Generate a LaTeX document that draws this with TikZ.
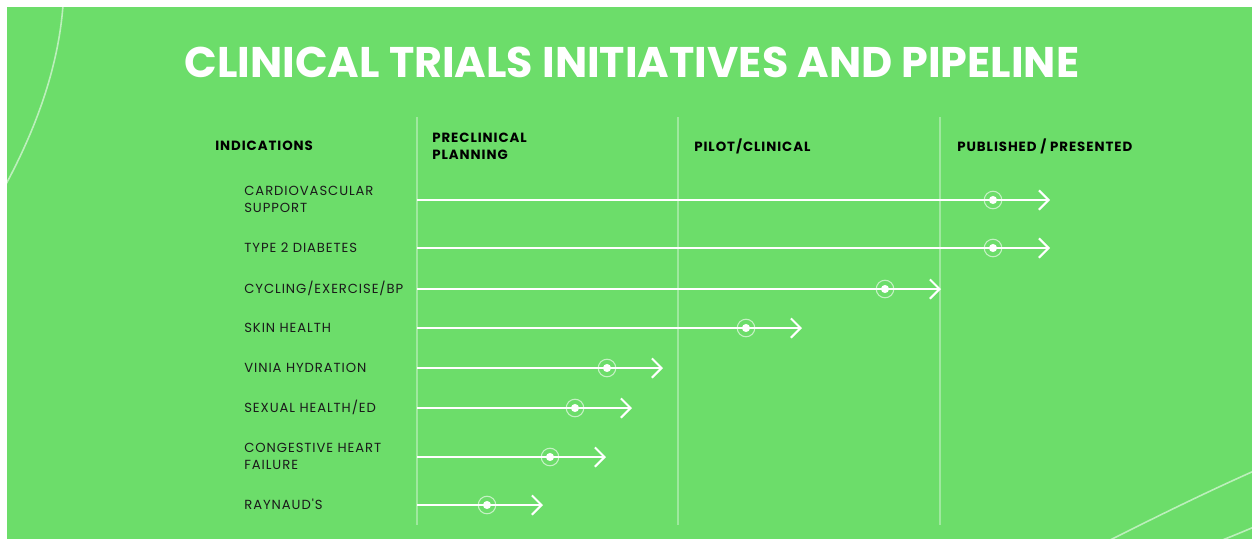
\documentclass[tikz,border=0pt]{standalone}
\usepackage{fontspec}
\setmainfont{Poppins}
\newfontfamily\spacedfont[LetterSpace=7]{Poppins}
\usetikzlibrary{arrows.meta}
\definecolor{bg}{HTML}{6CDD6A}
\definecolor{ink}{HTML}{1A1A1A}
\begin{document}
\begin{tikzpicture}[x=0.02cm,y=-0.02cm,
  titletext/.style={text=white,font=\fontsize{24.4}{28}\selectfont\bfseries,inner sep=0,anchor=base},
  colhead/.style={text=black,font=\spacedfont\fontsize{7.6}{9.6}\selectfont\bfseries,inner sep=0,anchor=west,align=left},
  indlabel/.style={text=ink,font=\spacedfont\fontsize{7.5}{9.6}\selectfont,inner sep=0,anchor=west,align=left},
  colrule/.style={white,opacity=0.35,line width=0.6pt},
  track/.style={white,line width=1.15pt,-{Straight Barb[length=5.5pt,width=11pt,line width=1.15pt]}},
  ring/.style={circle,draw=white,draw opacity=0.6,line width=0.6pt,minimum size=10pt,inner sep=0},
  dot/.style={circle,fill=white,minimum size=4.6pt,inner sep=0},
  swoosh/.style={white,opacity=0.55,line width=0.9pt}]
% canvas
\useasboundingbox (0,0) rectangle (1252,542);
\fill[white] (0,0) rectangle (1252,542);
\fill[bg] (7,7) rectangle (1252,539);
% decorative swooshes
\begin{scope}
  \clip (7,7) rectangle (1252,539);
  \draw[swoosh] (63,5) .. controls (58,75) and (30,140) .. (5,186);
  \draw[swoosh] (1100,545) .. controls (1150,520) and (1200,495) .. (1254,471);
  \draw[swoosh] (1210,545) .. controls (1225,539) and (1240,533) .. (1254,527);
\end{scope}
% title
\node[titletext] (title) at (632,77) {CLINICAL TRIALS INITIATIVES AND PIPELINE};
% column rules
\foreach \x/\n in {417/a,678/b,940/c}{
  \coordinate (top\n) at (\x,117);
  \coordinate (bot\n) at (\x,525);
  \draw[colrule] (top\n) -- (bot\n);
}
% column headings
\node[colhead] (hInd) at (215,146) {INDICATIONS};
\node[colhead] (hPre) at (432,146) {PRECLINICAL\\PLANNING};
\node[colhead] (hPil) at (694,146) {PILOT/CLINICAL};
\node[colhead] (hPub) at (957,146) {PUBLISHED / PRESENTED};
% indications with progress tracks: y, marker x, tip x, label
\foreach \i/\y/\m/\e/\t in {
  1/200/993/1050/{CARDIOVASCULAR\\SUPPORT},
  2/248/993/1050/{TYPE 2 DIABETES},
  3/289/885/941/{CYCLING/EXERCISE/BP},
  4/328/746/802/{SKIN HEALTH},
  5/368/607/663/{VINIA HYDRATION},
  6/408/575/632/{SEXUAL HEALTH/ED},
  7/457/550/606/{CONGESTIVE HEART\\FAILURE},
  8/505/487/543/{RAYNAUD'S}}{
  \node[indlabel] (lab\i) at (244,\y-0.5) {\t};
  \coordinate (s\i) at (417,\y);
  \coordinate (e\i) at (\e,\y);
  \draw[track] (s\i) -- (e\i);
  \node[ring] (r\i) at (\m,\y) {};
  \node[dot] (d\i) at (r\i) {};
}
\end{tikzpicture}
\end{document}
